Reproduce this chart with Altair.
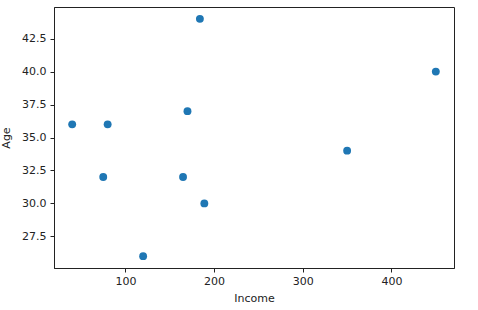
import altair as alt
import pandas as pd

income = [40, 80, 75, 120, 165, 170, 184, 189, 350, 450]
age = [36, 36, 32, 26, 32, 37, 44, 30, 34, 40]
x_ticks = [100, 200, 300, 400]
y_ticks = [27.5, 30.0, 32.5, 35.0, 37.5, 40.0, 42.5]

df = pd.DataFrame({"Income": income, "Age": age})

font = "DejaVu Sans"
chart = alt.Chart(df).mark_circle(size=62, color="#1f77b4", opacity=1).encode(
    x=alt.X("Income:Q",
            scale=alt.Scale(domain=[19.5, 470.5], nice=False, zero=False),
            axis=alt.Axis(values=x_ticks, format="d", grid=False, title="Income",
                          tickSize=4, labelPadding=3,
                          titleX=200, titleY=30, titleAlign="center",
                          titleBaseline="middle")),
    y=alt.Y("Age:Q",
            scale=alt.Scale(domain=[25.1, 44.9], nice=False, zero=False),
            axis=alt.Axis(values=y_ticks, format=".1f", grid=False, title="Age",
                          tickSize=4, labelPadding=4,
                          titleX=-48, titleY=130.5, titleAngle=270,
                          titleAlign="center", titleBaseline="middle")),
).properties(
    width=400, height=261,
    background="white",
    autosize=alt.AutoSizeParams(type="none"),
    padding={"left": 54, "top": 7, "right": 24, "bottom": 42},
).configure_view(
    stroke="#222", strokeWidth=1
).configure_axis(
    domainColor="#222", tickColor="#222", labelColor="#222", titleColor="#222",
    labelFont=font, titleFont=font, labelFontSize=11, titleFontSize=11,
    titleFontWeight="normal", domainWidth=1, tickWidth=1,
)

chart.save("out.html", embed_options={"renderer": "svg", "actions": False})
